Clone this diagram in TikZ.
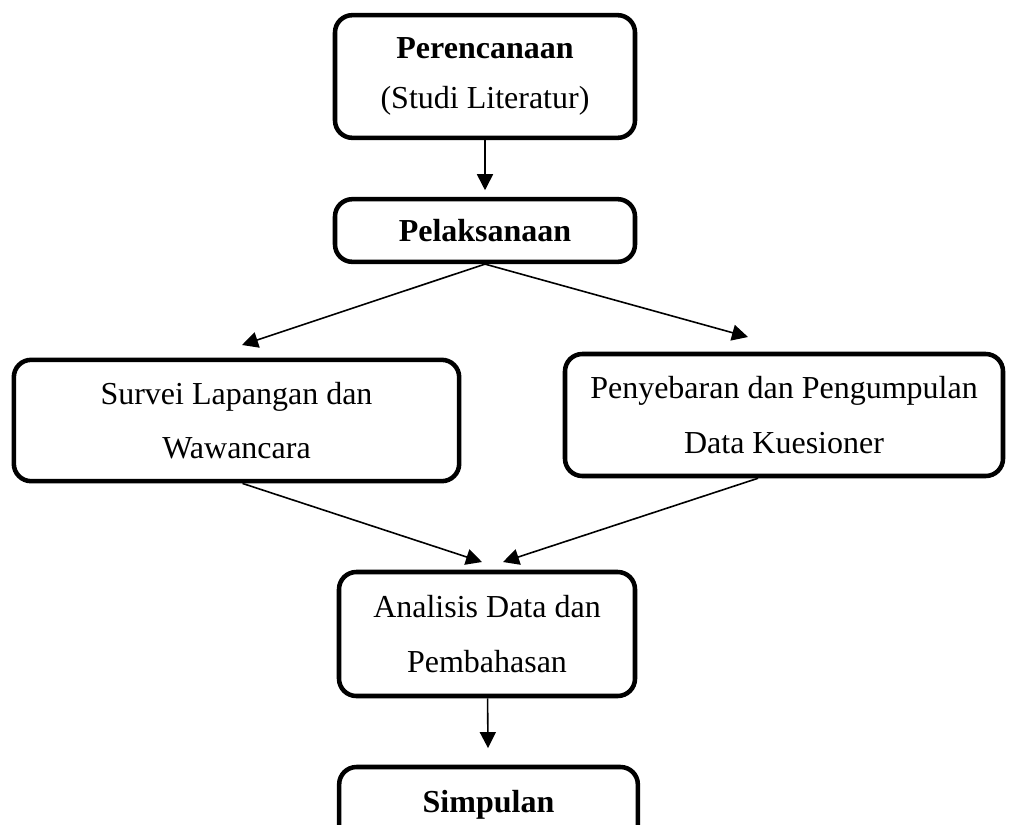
\documentclass[tikz,border=0pt]{standalone}
\usepackage{fontspec}
\setmainfont{Liberation Serif}
\usetikzlibrary{arrows.meta,calc}

\begin{document}
\begin{tikzpicture}[x=0.75pt, y=-0.75pt,
  box/.style={draw, line width=3.4pt, rounded corners=13pt, align=center, inner sep=0pt, font=\fontsize{24}{41}\selectfont},
  flow/.style={line width=1.2pt, -{Triangle[length=12pt,width=12pt]}}]
\useasboundingbox (0,0) rectangle (1009,824);
\clip (0,0) rectangle (1009,824);
% steps
\node[box, minimum width=225pt, minimum height=92pt, font=\fontsize{24}{38}\selectfont] (plan) at (485,76.5) {\textbf{Perencanaan}\\(Studi Literatur)};
\node[box, minimum width=225pt, minimum height=47pt] (exec) at (485,230.5) {\textbf{Pelaksanaan}};
\node[box, minimum width=334pt, minimum height=91pt] (survey) at (236.5,420.5) {Survei Lapangan dan\\Wawancara};
\node[box, minimum width=328.5pt, minimum height=91.5pt] (quest) at (784,415) {Penyebaran dan Pengumpulan\\Data Kuesioner};
\node[box, minimum width=222pt, minimum height=93pt] (analysis) at (487,634) {Analisis Data dan\\Pembahasan};
\node[box, minimum width=224pt, minimum height=57pt] (concl) at (488.5,805) {\textbf{Simpulan}};
% arrow ends
\coordinate (tipS) at (242,345);
\coordinate (tipQ) at (748,337);
\coordinate (inL) at (482,562);
\coordinate (inR) at (503,562);
% arrows
\draw[flow, shorten >=5pt] (plan) -- (exec);
\draw[flow] (exec.south) -- (tipS);
\draw[flow] (exec.south) -- (tipQ);
\draw[flow] ($(survey.south)+(6,0)$) -- (inL);
\draw[flow] ($(quest.south)+(-26,0)$) -- (inR);
\draw[flow, shorten >=12.5pt] (analysis) -- (concl);
\end{tikzpicture}
\end{document}
